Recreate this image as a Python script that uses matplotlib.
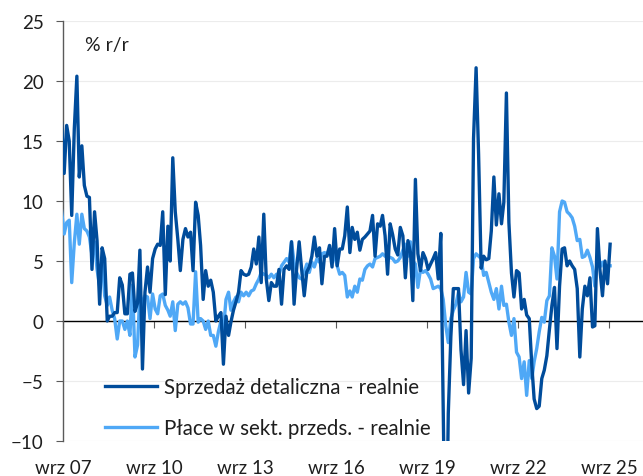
import matplotlib
matplotlib.use("Agg")
import matplotlib.pyplot as plt
import matplotlib.transforms as mtransforms
import pandas as pd

plt.rcParams["font.family"] = ["Lato", "DejaVu Sans"]

# monthly data, first value = Aug 2007, last = Sep 2025 (% r/r)
sales_real = [
    16.5, 12.3, 16.3, 15.0, 8.8,
    16.0, 20.4, 12.0, 14.6, 11.3, 10.4, 10.3, 4.3, 9.1, 6.7, 1.4, 6.1,
    5.2, 0.0, 0.4, 0.4, 0.7, 0.7, 3.6, 3.0, 0.6, 0.6, 3.9, 4.0,
    0.8, 1.5, 5.9, -4.0, 2.4, 4.5, 2.4, 5.2, 6.0, 6.4, 6.3, 9.1,
    2.2, 7.9, 5.0, 13.6, 9.1, 6.8, 4.2, 6.8, 7.7, 7.0, 7.4, 4.2,
    9.9, 8.8, 6.3, 1.8, 4.2, 2.9, 3.4, 2.4, 0.0, 0.4, 0.7, -3.6,
    0.4, -1.2, -0.1, 0.9, 1.6, 2.4, 4.2, 3.9, 3.8, 3.9, 4.5, 6.0,
    4.75, 7.0, 3.2, 8.9, 3.5, 1.7, 3.2, 2.9, 2.9, 4.3, 1.4, 4.3,
    4.6, 4.3, 6.6, 1.4, 4.3, 6.6, 4.3, 2.1, 4.1, 4.5, 5.4, 7.0,
    5.4, 6.1, 3.1, 5.4, 5.4, 6.3, 4.5, 7.7, 4.6, 6.0, 6.0, 7.1,
    9.5, 5.7, 7.8, 6.8, 7.4, 5.9, 6.8, 7.0, 7.25, 7.5, 8.8, 5.4,
    8.1, 7.9, 8.8, 7.1, 3.9, 8.1, 7.2, 6.0, 5.5, 7.8, 7.1, 3.6,
    6.7, 5.7, 1.7, 11.8, 5.6, 4.2, 5.7, 5.2, 4.3, 4.75, 5.2, 5.7,
    3.5, 7.3, -7.5, -22.9, -7.7, -1.3, 2.7, 2.7, 2.7, -2.4, -5.3, -0.8,
    -6.0, -3.1, 15.2, 21.1, 13.9, 4.4, 5.4, 5.1, 5.2, 7.5, 12.0, 8.0,
    10.6, 8.1, 9.9, 19.0, 8.2, 4.0, 2.0, 4.2, 4.0, 1.0, 1.8, 0.5,
    0.2, -3.7, -6.5, -7.3, -7.1, -4.8, -4.1, -2.9, -0.7, 1.3, 2.8, -2.3,
    2.9, 6.0, 6.1, 4.6, 5.0, 4.6, 4.3, 2.7, -3.0, 1.0, 2.9, 2.1,
    3.6, -0.5, -0.4, 7.7, 4.3, 2.1, 5.0, 3.1, 6.4,
]

wages_real = [
    9.2, 7.25, 8.2, 8.4, 3.2,
    6.5, 8.9, 6.4, 8.9, 7.7, 7.5, 7.0, 5.5, 6.6, 4.3, 2.9, 5.2,
    2.1, 1.3, 2.0, 0.9, 0.2, -1.5, 0.0, 0.0, -0.7, 0.0, -1.2, 3.0,
    -3.0, -2.0, 2.4, 1.3, 2.1, 2.0, 0.2, 2.25, 1.0, 0.6, 2.1, 2.25,
    1.3, 0.9, 0.4, 1.6, -0.8, 1.4, 1.6, 1.4, 1.6, 1.1, -0.25, -0.25,
    4.1, -0.1, 0.2, 0.0, -0.7, 0.0, -1.2, -1.2, -2.1, -0.9, 0.0, -0.7,
    1.8, 2.4, 0.9, 1.6, 2.0, 1.6, 2.4, 2.1, 2.4, 2.1, 2.5, 2.6,
    3.1, 3.5, 4.05, 3.9, 3.8, 3.6, 3.9, 3.6, 3.9, 3.8, 4.6, 4.9,
    5.2, 4.9, 6.6, 4.9, 4.05, 3.6, 3.5, 4.05, 4.75, 4.05, 4.9, 4.5,
    5.2, 4.9, 5.6, 5.7, 5.6, 6.0, 5.7, 5.4, 4.6, 3.9, 4.05, 3.8,
    2.0, 2.5, 2.0, 2.9, 2.4, 3.5, 3.4, 4.3, 4.6, 4.75, 4.5, 5.2,
    5.3, 5.4, 5.6, 5.4, 5.3, 5.3, 5.2, 4.9, 5.0, 5.3, 5.9, 6.4,
    5.4, 6.6, 5.0, 4.75, 2.8, 4.3, 4.05, 4.2, 3.9, 3.5, 2.7, 2.8,
    2.9, 2.7, 1.8, -0.4, -1.8, 0.2, 0.9, 1.4, 2.4, 1.6, 2.0, 4.05,
    2.4, 2.25, 5.2, 5.6, 5.4, 5.2, 3.8, 4.05, 3.2, 2.4, 1.8, 2.7,
    1.0, 2.9, 1.3, 1.4, -0.1, -1.2, 0.2, -2.6, -3.0, -4.8, -3.4, -6.2,
    -3.3, -4.8, -3.4, -2.3, -0.9, 0.3, -0.1, 1.7, 2.1, 6.1, 5.4, 3.5,
    9.1, 10.0, 9.9, 9.1, 8.9, 8.6, 7.9, 6.7, 6.8, 5.3, 5.4, 5.9,
    5.3, 4.5, 2.9, 5.0, 4.5, 4.9, 4.3, 4.6, 4.6,
]

tick_years = [2007, 2010, 2013, 2016, 2019, 2022, 2025]
tick_labels = ["wrz 07", "wrz 10", "wrz 13", "wrz 16", "wrz 19", "wrz 22", "wrz 25"]

dark = "#004c9b"
light = "#4fa8f6"
text_col = "#1e1e1e"

dates = pd.date_range("2007-08-01", periods=len(sales_real), freq="MS") + pd.Timedelta(days=14)

fig = plt.figure(figsize=(6.43, 4.77), dpi=100)
ax = fig.add_axes([63 / 643, 35 / 477, 580 / 643, 420 / 477])

l_wages, = ax.plot(dates, wages_real, color=light, lw=2.4, zorder=3,
                   label="Płace w sekt. przeds. - realnie")
l_sales, = ax.plot(dates, sales_real, color=dark, lw=2.4, zorder=4,
                   label="Sprzedaż detaliczna - realnie")

ax.set_ylim(-10, 25)
ax.set_yticks(range(-10, 30, 5))
ax.set_xlim(pd.Timestamp("2007-09-01"), pd.Timestamp("2026-10-16"))

ax.grid(axis="y", color="#ececec", lw=0.8)
ax.set_axisbelow(True)

for side in ["top", "right"]:
    ax.spines[side].set_visible(False)
ax.spines["bottom"].set_position(("data", 0))
ax.spines["bottom"].set_color("black")
ax.spines["bottom"].set_linewidth(1.0)
ax.spines["bottom"].set_zorder(2)
ax.spines["left"].set_color("#5a5a5a")
ax.spines["left"].set_linewidth(1.0)

tick_dates = [pd.Timestamp(f"{y}-09-01") for y in tick_years]
ax.set_xticks(tick_dates)
ax.tick_params(axis="x", length=5, width=0.8, color="#5a5a5a", labelbottom=False)
ax.tick_params(axis="y", length=5, width=0.8, color="#5a5a5a", pad=9,
               labelsize=13.5, labelcolor=text_col)

trans = mtransforms.blended_transform_factory(ax.transData, ax.transAxes)
for d, lab in zip(tick_dates, tick_labels):
    ax.text(d, -0.062, lab, transform=trans, ha="center", va="center",
            fontsize=13.5, color=text_col)

ax.text(0.038, 0.943, "% r/r", transform=ax.transAxes, ha="left", va="center",
        fontsize=14, color=text_col)

ax.legend(handles=[l_sales, l_wages], loc="upper left", bbox_to_anchor=(0.0724, 0.152),
          frameon=False, fontsize=14.8, handlelength=2.55, handletextpad=0.3,
          labelspacing=1.0, borderpad=0, borderaxespad=0, labelcolor=text_col)

fig.savefig("out.png", dpi=100)
